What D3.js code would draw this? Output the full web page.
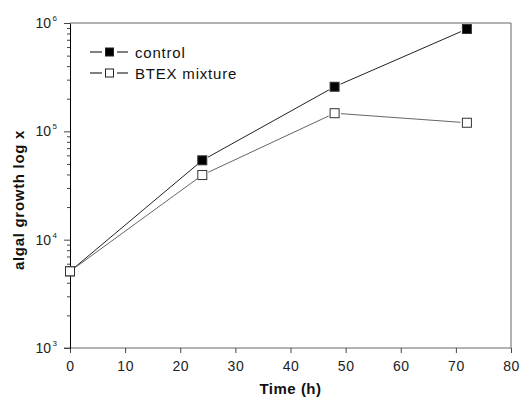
<!DOCTYPE html>
<html>
<head>
<meta charset="utf-8">
<script src="https://cdn.jsdelivr.net/npm/d3@7"></script>
<style>
  body { margin: 0; background: #fff; }
  text { font-family: "Liberation Sans", Arial, sans-serif; }
</style>
</head>
<body>
<svg id="chart" width="520" height="401"></svg>
<script>
// data
var hours = [0, 24, 48, 72];
var control = [5100, 54000, 258000, 880000];
var btex = [5100, 39500, 147000, 120000];
var xTicks = [0, 10, 20, 30, 40, 50, 60, 70, 80];
var yDecades = [3, 4, 5, 6];
var legendNames = ['control', 'BTEX mixture'];

var margin = { left: 70, right: 9, top: 23, bottom: 53 };
var W = 520, H = 401;

var svg = d3.select('#chart');

var x = d3.scaleLinear().domain([0, 80]).range([margin.left, W - margin.right]);
var y = d3.scaleLog().domain([1e3, 1e6]).range([H - margin.bottom, margin.top]);

// frame: top and right
svg.append('line')
  .attr('x1', x(0)).attr('x2', x(80)).attr('y1', y(1e6)).attr('y2', y(1e6))
  .attr('stroke', '#666').attr('stroke-width', 1);
svg.append('line')
  .attr('x1', x(80)).attr('x2', x(80)).attr('y1', y(1e6)).attr('y2', y(1e3))
  .attr('stroke', '#666').attr('stroke-width', 1);

// x axis
var xAxis = svg.append('g')
  .attr('transform', 'translate(0,' + y(1e3) + ')')
  .call(d3.axisBottom(x).tickValues(xTicks).tickSize(5).tickPadding(8).tickSizeOuter(0));
xAxis.select('.domain').attr('stroke', '#666').attr('d', 'M' + (x(0) - 6) + ',0H' + x(80));
xAxis.selectAll('.tick line').attr('stroke', '#444');
xAxis.selectAll('.tick text').attr('font-size', 14).attr('fill', '#222')
  .attr('letter-spacing', 0.5)
  .attr('font-family', '"Liberation Sans", Arial, sans-serif');

// y axis with minor ticks
var yAxis = svg.append('g').attr('transform', 'translate(' + x(0) + ',0)');
var allTicks = y.ticks();
yAxis.call(d3.axisLeft(y).tickValues(allTicks).tickSizeOuter(0).tickFormat(''));
yAxis.select('.domain').attr('stroke', '#000');
yAxis.selectAll('.tick line')
  .attr('stroke', '#444')
  .attr('x2', function(d) {
    var e = Math.log10(d);
    return Math.abs(e - Math.round(e)) < 1e-9 ? -6 : -3;
  });

// decade labels with superscripts
var lbl = svg.append('g').selectAll('text').data(yDecades).enter().append('text')
  .attr('x', x(0) - 13)
  .attr('y', function(d) { return y(Math.pow(10, d)) + 5; })
  .attr('text-anchor', 'end')
  .attr('font-size', 14)
  .attr('fill', '#222');
lbl.append('tspan').text('10');
lbl.append('tspan').attr('dx', 1.5).attr('dy', -7).attr('font-size', 8).text(function(d) { return d; });

// axis titles
svg.append('text')
  .attr('x', (x(0) + x(80)) / 2)
  .attr('y', 394)
  .attr('text-anchor', 'middle')
  .attr('font-size', 15).attr('font-weight', 'bold').attr('fill', '#111')
  .attr('letter-spacing', 0.5)
  .text('Time (h)');
svg.append('text')
  .attr('transform', 'translate(24,200) rotate(-90)')
  .attr('text-anchor', 'middle')
  .attr('font-size', 15).attr('font-weight', 'bold').attr('fill', '#111')
  .attr('letter-spacing', 0.7)
  .text('algal growth log x');

// series
var ms = 9, gap = 2;
var series = [
  { name: legendNames[0], vals: control, fill: '#000', line: '#222' },
  { name: legendNames[1], vals: btex, fill: '#fff', line: '#666' }
];

series.forEach(function(s) {
  var pts = hours.map(function(h, i) { return [x(h), y(s.vals[i])]; });
  var g = svg.append('g');
  // segments stop short of the markers
  for (var i = 0; i < pts.length - 1; i++) {
    var a = pts[i], b = pts[i + 1];
    var dx = b[0] - a[0], dy = b[1] - a[1];
    var len = Math.sqrt(dx * dx + dy * dy);
    var cut = ms / 2 + gap;
    g.append('line')
      .attr('x1', a[0] + dx / len * cut).attr('y1', a[1] + dy / len * cut)
      .attr('x2', b[0] - dx / len * cut).attr('y2', b[1] - dy / len * cut)
      .attr('stroke', s.line).attr('stroke-width', 1);
  }
  g.selectAll('rect').data(pts).enter().append('rect')
    .attr('x', function(d) { return d[0] - ms / 2; })
    .attr('y', function(d) { return d[1] - ms / 2; })
    .attr('width', ms).attr('height', ms)
    .attr('fill', s.fill).attr('stroke', '#333').attr('stroke-width', 1);
});

// legend
var leg = svg.append('g').selectAll('g').data(series).enter().append('g')
  .attr('transform', function(d, i) { return 'translate(90,' + (52 + i * 21) + ')'; });
leg.append('line').attr('x1', 0).attr('x2', 12).attr('y1', 0).attr('y2', 0).attr('stroke', '#000');
leg.append('line').attr('x1', 27).attr('x2', 38).attr('y1', 0).attr('y2', 0).attr('stroke', '#000');
leg.append('rect').attr('x', 15.5).attr('y', -4).attr('width', 8).attr('height', 8)
  .attr('fill', function(d) { return d.fill; }).attr('stroke', '#222');
leg.append('text').attr('x', 45).attr('y', 5.5)
  .attr('font-size', 15).attr('fill', '#111')
  .attr('letter-spacing', 0.8)
  .text(function(d) { return d.name; });
</script>
</body>
</html>
